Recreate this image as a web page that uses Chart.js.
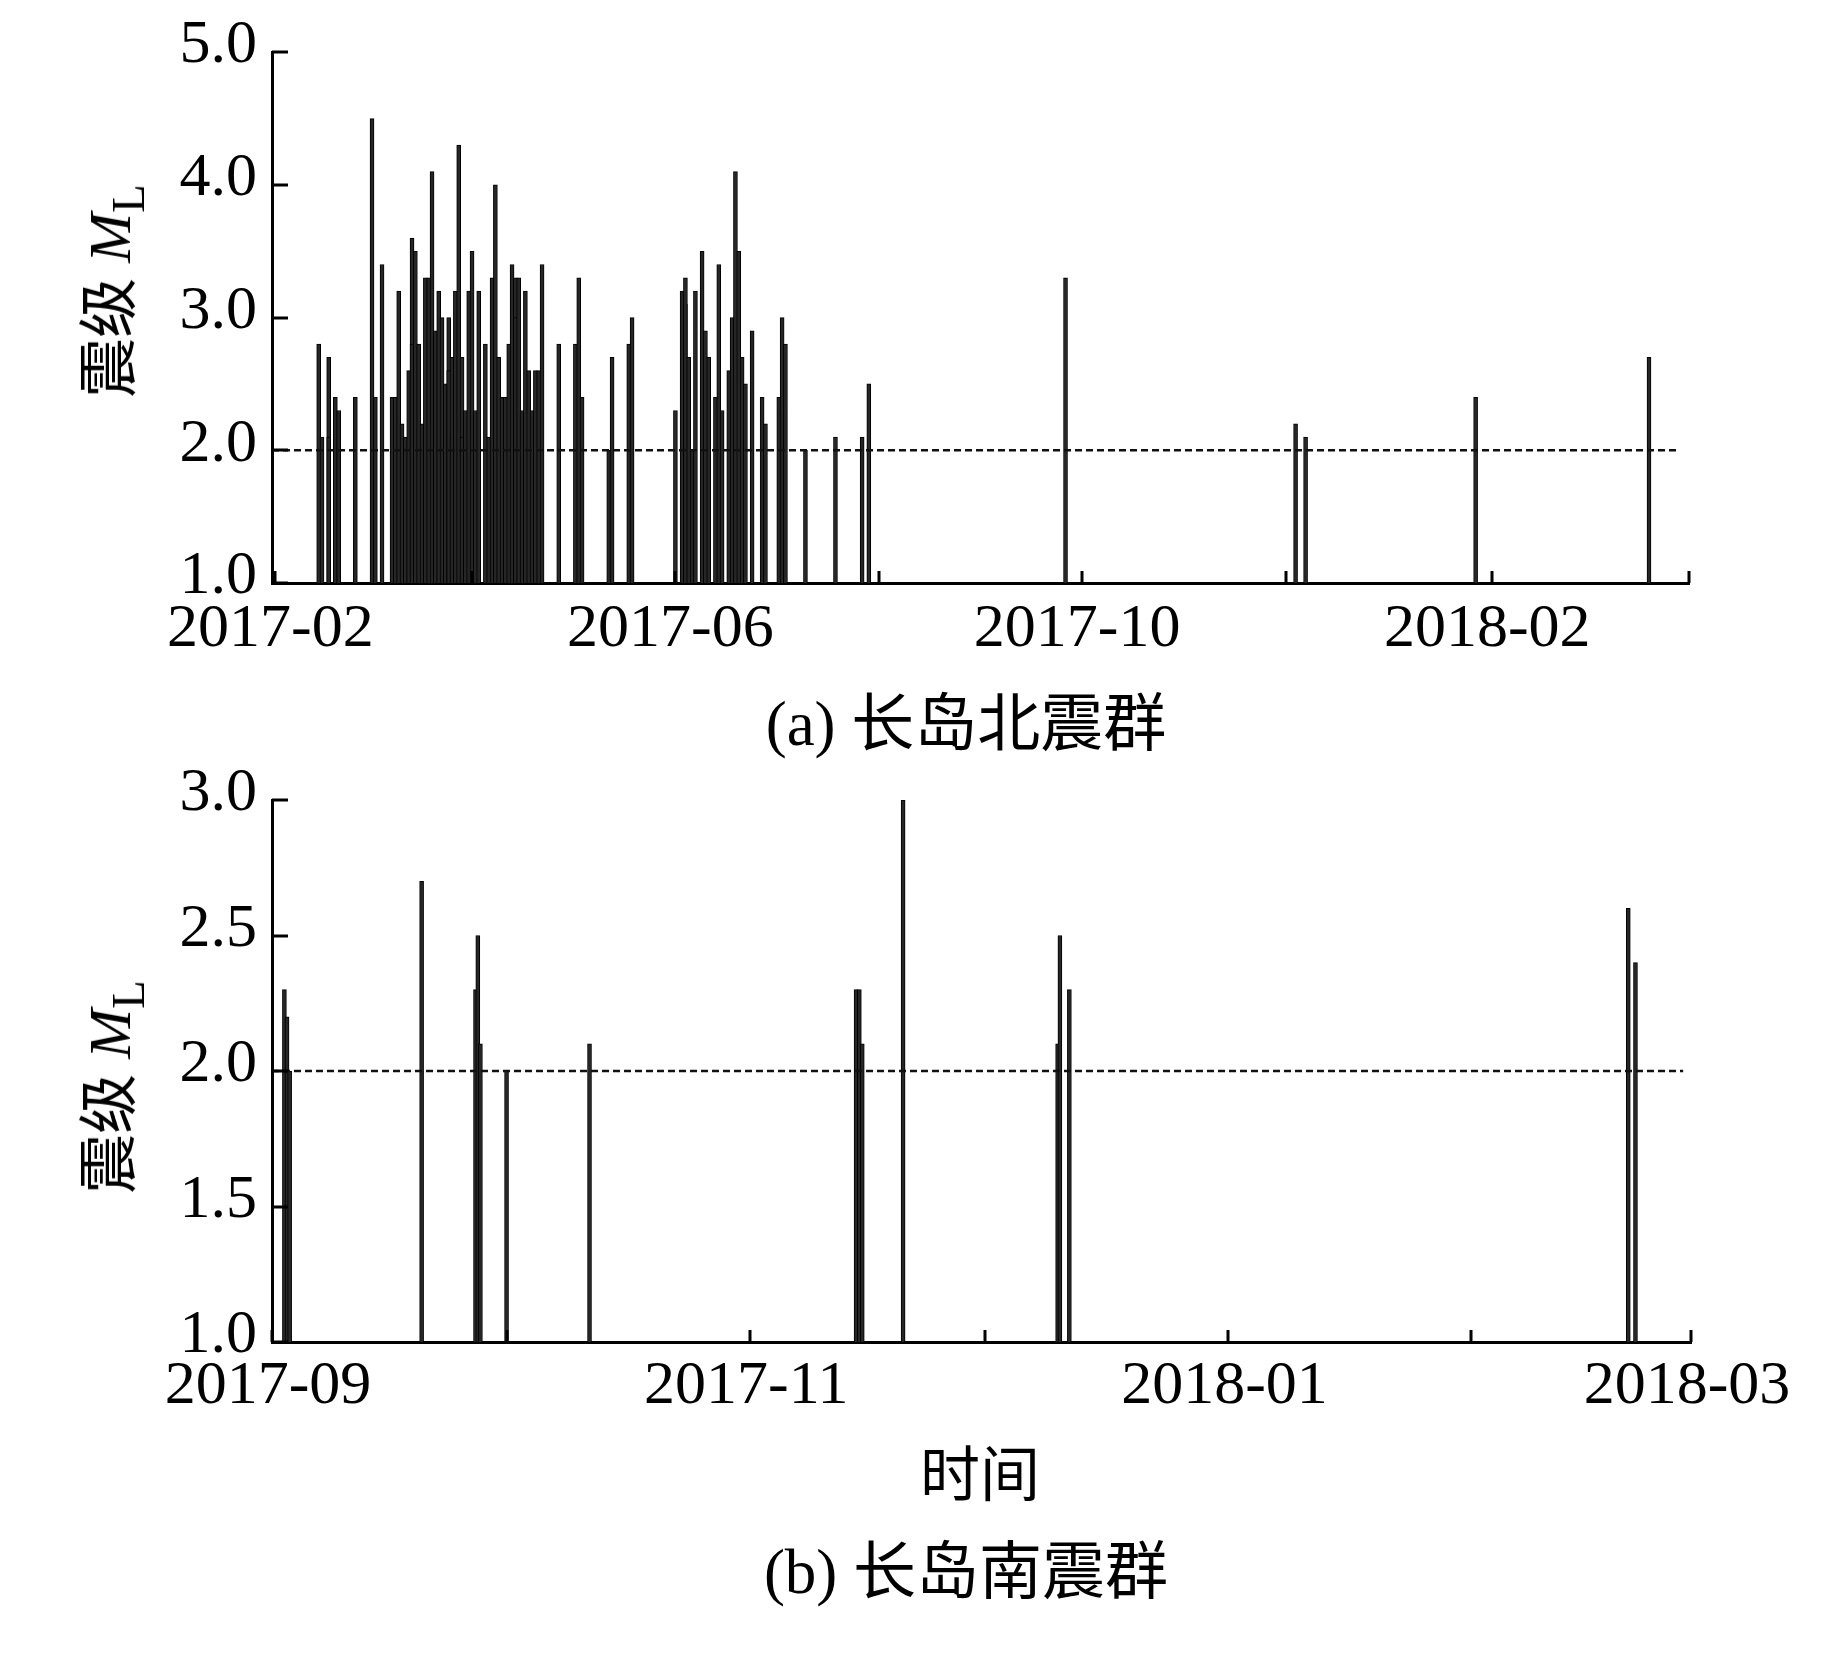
<!DOCTYPE html>
<html>
<head>
<meta charset="utf-8">
<script src="https://cdn.jsdelivr.net/npm/chart.js@4.4.1/dist/chart.umd.min.js"></script>
<style>
html,body{margin:0;padding:0;background:#fff;}
body{width:1843px;height:1654px;position:relative;overflow:hidden;}
canvas{position:absolute;left:0;}
.t{position:absolute;transform:translate(-50%,-50%);white-space:nowrap;color:#000;font-family:'Liberation Serif','Noto Sans CJK SC',serif;line-height:1;}
.yt{transform:translate(-50%,-50%) rotate(-90deg);font-size:60px;}
.yt sub{font-size:0.78em;vertical-align:-0.3em;line-height:0;font-style:normal;}
.cap{font-size:63px;}
</style>
</head>
<body>
<canvas id="north" width="1843" height="700" style="top:0px"></canvas>
<canvas id="south" width="1843" height="700" style="top:740px"></canvas>
<div class="t yt" style="left:110px;top:291px">震级 <i>M</i><sub>L</sub></div>
<div class="t cap" style="left:966px;top:724px">(a) 长岛北震群</div>
<div class="t yt" style="left:110px;top:1087px">震级 <i>M</i><sub>L</sub></div>
<div class="t cap" style="left:980px;top:1476px;font-size:60px">时间</div>
<div class="t cap" style="left:966px;top:1572px">(b) 长岛南震群</div>
<script>
// ---------- data ----------
const threshold = 2.0;

// (a) 长岛北震群
const northDates = [
 '2017-02-14','2017-02-15','2017-02-17','2017-02-17','2017-02-19','2017-02-20','2017-02-25',
 '2017-03-02','2017-03-03','2017-03-05','2017-03-08','2017-03-09','2017-03-10','2017-03-11',
 '2017-03-12','2017-03-13','2017-03-14','2017-03-14','2017-03-15','2017-03-16','2017-03-17',
 '2017-03-18','2017-03-19','2017-03-20','2017-03-21','2017-03-22','2017-03-23','2017-03-24',
 '2017-03-25','2017-03-25','2017-03-26','2017-03-26','2017-03-27','2017-03-28','2017-03-29',
 '2017-03-29','2017-03-30','2017-03-31','2017-04-01','2017-04-02','2017-04-03','2017-04-05',
 '2017-04-06','2017-04-07','2017-04-08','2017-04-09','2017-04-10','2017-04-11','2017-04-12',
 '2017-04-13','2017-04-14','2017-04-14','2017-04-15','2017-04-16','2017-04-17','2017-04-18',
 '2017-04-19','2017-04-20','2017-04-21','2017-04-22','2017-04-27',
 '2017-05-02','2017-05-03','2017-05-04','2017-05-12','2017-05-13','2017-05-18','2017-05-19',
 '2017-06-01','2017-06-03','2017-06-04','2017-06-04','2017-06-05','2017-06-06','2017-06-07',
 '2017-06-09','2017-06-10','2017-06-11','2017-06-13','2017-06-14','2017-06-15','2017-06-17',
 '2017-06-18','2017-06-19','2017-06-20','2017-06-21','2017-06-22','2017-06-24','2017-06-27',
 '2017-06-28','2017-07-02','2017-07-03','2017-07-03','2017-07-04','2017-07-10','2017-07-19',
 '2017-07-27','2017-07-29','2017-09-26','2017-12-04','2017-12-07','2018-01-27','2018-03-20'
];
const northMags = [
 2.8,2.1,2.7,2.1,2.4,2.3,2.4,
 4.5,2.4,3.4,2.4,2.4,3.2,2.2,
 2.1,2.6,3.6,2.8,3.5,2.8,2.2,
 3.3,3.3,4.1,2.9,3.2,3.0,2.5,
 3.0,2.6,2.1,2.7,3.2,4.3,2.7,
 2.1,2.3,3.2,3.5,2.3,3.2,2.8,
 2.1,3.3,4.0,2.7,2.4,2.4,2.8,
 3.4,3.3,3.0,3.3,2.3,3.2,2.6,
 2.3,2.6,2.6,3.4,2.8,
 2.8,3.3,2.4,2.0,2.7,2.8,3.0,
 2.3,3.2,3.1,3.3,2.7,2.0,3.2,
 3.5,2.9,2.7,2.4,3.4,2.3,2.6,
 3.0,4.1,3.5,2.7,2.5,2.9,2.4,
 2.2,2.4,2.3,3.0,2.8,2.0,2.1,
 2.1,2.5,3.3,2.2,2.1,2.4,2.7
];
const northRange = ['2017-01-31', '2018-04-01'];
const northTickDates = ['2017-02-01','2017-04-01','2017-06-01','2017-08-01','2017-10-01','2017-12-01','2018-02-01','2018-04-01'];
const northLabelDates = ['2017-02-01','2017-06-01','2017-10-01','2018-02-01'];
const northLabels = ['2017-02','2017-06','2017-10','2018-02'];
const northThresholdEnd = '2018-03-29';
const northYTicks = [1.0, 5.0, 1.0]; // min, max, step

// (b) 长岛南震群
const southDates = [
 '2017-09-02T14:00','2017-09-02T22:00','2017-09-03T06:00','2017-09-20T02:00',
 '2017-09-26T23:00','2017-09-27T06:00','2017-09-27T14:00','2017-09-30T22:00',
 '2017-10-11T12:00','2017-11-14T12:00','2017-11-14T22:00','2017-11-15T07:00',
 '2017-11-20T12:00','2017-12-10T05:00','2017-12-10T12:00','2017-12-11T17:00',
 '2018-02-21T00:00','2018-02-21T22:00'
];
const southMags = [
 2.3,2.2,2.0,2.7,
 2.3,2.5,2.1,2.0,
 2.1,2.3,2.3,2.1,
 3.0,2.1,2.5,2.3,
 2.6,2.4
];
const southRange = ['2017-09-01', '2018-03-01'];
const southTickDates = ['2017-09-01','2017-10-01','2017-11-01','2017-12-01','2018-01-01','2018-02-01','2018-03-01'];
const southLabelDates = ['2017-09-01','2017-11-01','2018-01-01','2018-03-01'];
const southLabels = ['2017-09','2017-11','2018-01','2018-03'];
const southThresholdEnd = '2018-02-28';
const southYTicks = [1.0, 3.0, 0.5];

// ---------- drawing ----------
const DAY = 86400000;
const SERIF = "'Liberation Serif','Times New Roman',serif";
function toDay(s, origin) {
  const t = s.length > 10 ? Date.parse(s + ':00Z') : Date.parse(s + 'T00:00:00Z');
  return (t - Date.parse(origin + 'T00:00:00Z')) / DAY;
}

const innerTicks = {
  id: 'innerTicks',
  afterDatasetsDraw(chart, args, opts) {
    const {ctx, chartArea} = chart;
    const x = chart.scales.x, y = chart.scales.y;
    ctx.save();
    ctx.strokeStyle = '#000';
    ctx.lineWidth = 3;
    ctx.beginPath();
    (opts.xTicks || []).forEach(v => {
      const px = Math.round(x.getPixelForValue(v));
      ctx.moveTo(px, chartArea.bottom);
      ctx.lineTo(px, chartArea.bottom - opts.xLen);
    });
    y.ticks.forEach(t => {
      const py = Math.round(y.getPixelForValue(t.value));
      ctx.moveTo(chartArea.left, py);
      ctx.lineTo(chartArea.left + opts.yLen, py);
    });
    ctx.stroke();
    ctx.restore();
  }
};

function buildChart(id, c) {
  const origin = c.range[0].slice(0, 10);
  const xMin = toDay(c.range[0], origin), xMax = toDay(c.range[1], origin);
  const bars = c.dates.map((d, i) => ({x: toDay(d, origin), y: [c.yTicks[0], c.mags[i]]}));
  const tickDays = c.tickDates.map(d => toDay(d, origin));
  const labelDays = c.labelDates.map(d => toDay(d, origin));
  const labelMap = {};
  labelDays.forEach((v, i) => { labelMap[v] = c.labels[i]; });
  return new Chart(document.getElementById(id), {
    type: 'bar',
    data: {
      datasets: [
        {type: 'line', data: [{x: xMin, y: threshold}, {x: toDay(c.thresholdEnd, origin), y: threshold}],
         borderColor: '#111', borderWidth: 2.5, borderDash: [7, 4], pointRadius: 0, order: 0},
        {type: 'bar', data: bars, backgroundColor: '#262626', borderColor: '#000', borderWidth: 1,
         borderSkipped: 'start', barThickness: 4, order: 1}
      ]
    },
    options: {
      responsive: false, animation: false, devicePixelRatio: 1,
      layout: {padding: {top: c.padTop, right: c.padRight, left: 0, bottom: 0}},
      plugins: {legend: {display: false}, tooltip: {enabled: false},
                innerTicks: {xTicks: tickDays, xLen: 12, yLen: 16}},
      scales: {
        x: {
          type: 'linear', min: xMin, max: xMax, offset: false,
          grid: {display: false, drawTicks: false},
          border: {display: true, width: 3, color: '#000'},
          afterBuildTicks: s => { s.ticks = labelDays.map(v => ({value: v})); },
          afterFit: s => { s.height = c.xHeight; },
          ticks: {autoSkip: false, maxRotation: 0, minRotation: 0, padding: c.xPad, labelOffset: c.labelOffset,
                  color: '#000', font: {family: SERIF, size: 62}, callback: v => labelMap[v] ?? ''}
        },
        y: {
          min: c.yTicks[0], max: c.yTicks[1],
          grid: {display: false, drawTicks: false},
          border: {display: true, width: 3, color: '#000'},
          afterFit: s => { s.width = 272; },
          ticks: {stepSize: c.yTicks[2], padding: 15, labelOffset: -6, color: '#000', font: {family: SERIF, size: 62},
                  callback: v => Number(v).toFixed(1)}
        }
      }
    },
    plugins: [innerTicks]
  });
}

buildChart('north', {
  dates: northDates, mags: northMags, range: northRange, tickDates: northTickDates,
  labelDates: northLabelDates, labels: northLabels, thresholdEnd: northThresholdEnd, yTicks: northYTicks,
  padTop: 44, padRight: 154, xHeight: 117, xPad: 10, labelOffset: -5
});
buildChart('south', {
  dates: southDates, mags: southMags, range: southRange, tickDates: southTickDates,
  labelDates: southLabelDates, labels: southLabels, thresholdEnd: southThresholdEnd, yTicks: southYTicks,
  padTop: 60, padRight: 152, xHeight: 98, xPad: 8, labelOffset: -4
});
</script>
</body>
</html>
